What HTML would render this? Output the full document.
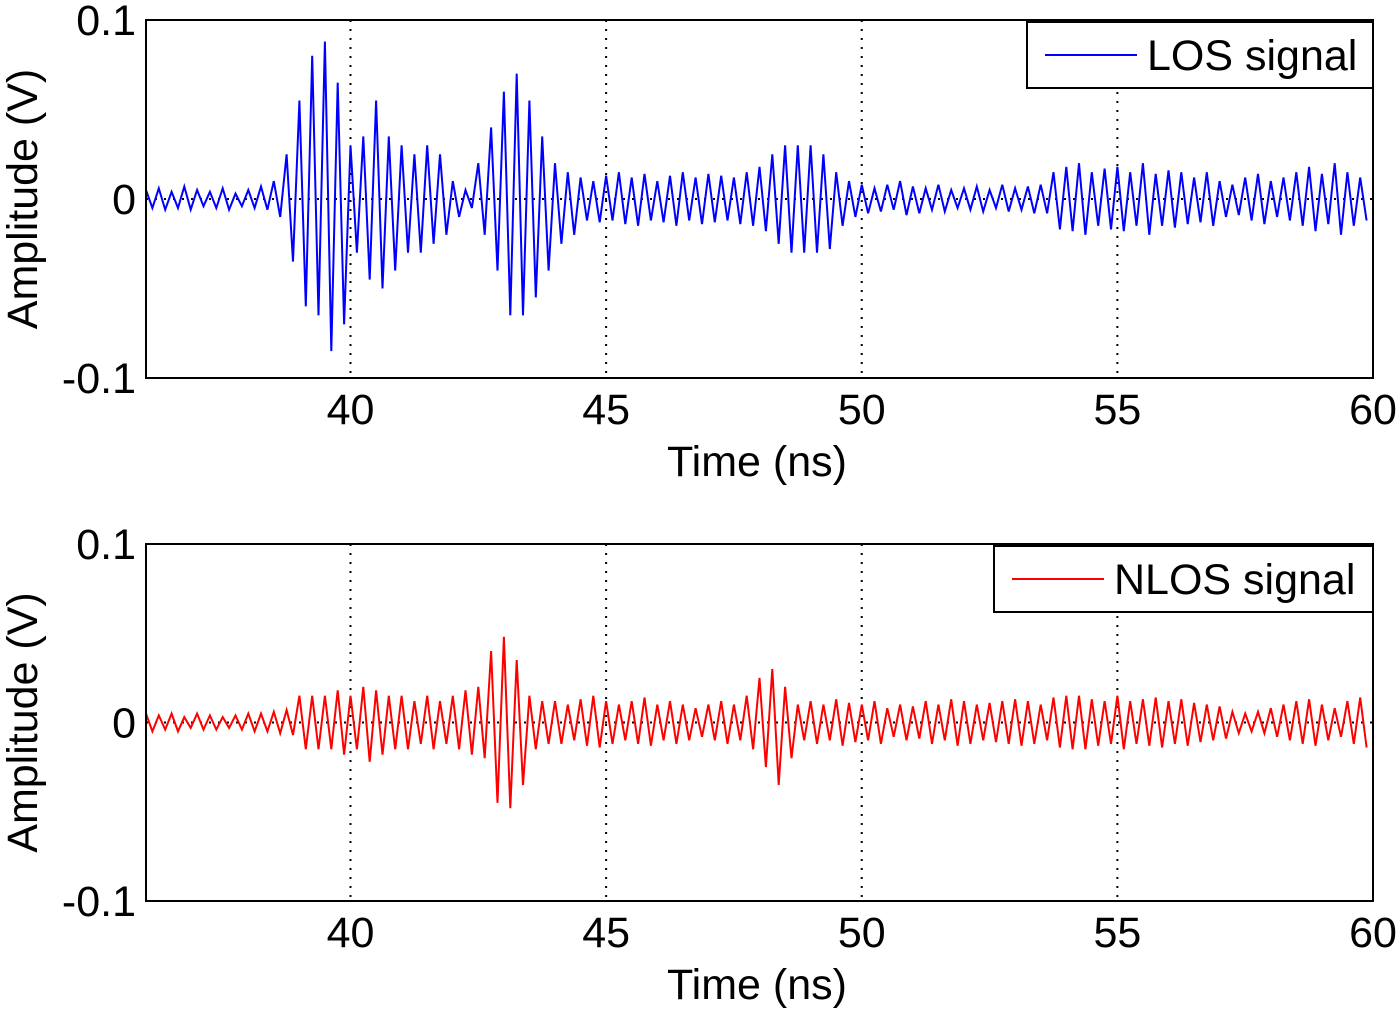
<!DOCTYPE html>
<html><head><meta charset="utf-8"><style>
body{margin:0;background:#fff;width:1400px;height:1012px;overflow:hidden}
svg text{font-family:"Liberation Sans",sans-serif;fill:#000}
</style></head><body>
<svg id="chart" width="1400" height="1012">
</svg>
<script>
const cycleTimes=[36,36.25,36.5,36.75,37,37.25,37.5,37.75,38,38.25,38.5,38.75,39,39.25,39.5,39.75,40,40.25,40.5,40.75,41,41.25,41.5,41.75,42,42.25,42.5,42.75,43,43.25,43.5,43.75,44,44.25,44.5,44.75,45,45.25,45.5,45.75,46,46.25,46.5,46.75,47,47.25,47.5,47.75,48,48.25,48.5,48.75,49,49.25,49.5,49.75,50,50.25,50.5,50.75,51,51.25,51.5,51.75,52,52.25,52.5,52.75,53,53.25,53.5,53.75,54,54.25,54.5,54.75,55,55.25,55.5,55.75,56,56.25,56.5,56.75,57,57.25,57.5,57.75,58,58.25,58.5,58.75,59,59.25,59.5,59.75];
const losHi=[5,6,4,7,5,4,6,3,5,7,10,25,55,80,88,65,30,35,55,35,30,25,30,25,10,5,20,40,60,70,55,35,20,15,12,10,13,15,12,14,10,13,15,12,14,13,12,15,18,25,30,30,30,25,15,10,8,6,8,10,7,6,8,5,6,7,5,8,6,7,8,15,18,20,15,17,18,15,20,14,16,15,12,15,10,8,12,14,10,12,15,18,14,20,15,12];
const losLo=[-5,-6,-5,-6,-4,-5,-6,-4,-5,-6,-10,-35,-60,-65,-85,-70,-30,-45,-50,-40,-30,-30,-25,-20,-10,-5,-20,-40,-65,-65,-55,-40,-25,-20,-12,-13,-12,-14,-15,-12,-13,-15,-12,-14,-13,-12,-14,-15,-18,-25,-30,-30,-30,-28,-15,-10,-8,-7,-6,-9,-8,-6,-7,-5,-6,-7,-5,-7,-6,-8,-8,-17,-18,-20,-15,-17,-18,-15,-20,-15,-16,-14,-13,-15,-10,-9,-12,-14,-10,-12,-15,-18,-14,-20,-15,-12];
const nlosHi=[5,4,5,3,5,4,3,4,5,5,6,7,15,15,15,18,15,20,18,15,15,12,15,12,15,18,20,40,48,35,15,12,12,10,13,15,12,10,12,14,10,12,10,8,10,12,10,15,25,30,20,10,12,10,13,11,10,12,8,10,9,12,10,13,12,10,11,12,13,12,10,14,15,15,13,12,15,12,13,14,12,13,11,10,9,6,5,6,8,10,12,13,10,8,12,14];
const nlosLo=[-5,-4,-5,-3,-4,-4,-3,-4,-5,-5,-6,-7,-15,-15,-15,-18,-15,-22,-18,-15,-15,-12,-15,-12,-15,-18,-20,-45,-48,-35,-15,-12,-12,-10,-13,-14,-12,-10,-12,-13,-10,-12,-10,-8,-10,-12,-10,-15,-25,-35,-20,-10,-12,-10,-13,-11,-10,-12,-8,-10,-9,-12,-10,-13,-12,-10,-11,-12,-13,-12,-10,-14,-15,-15,-13,-12,-15,-12,-13,-14,-12,-13,-11,-10,-9,-6,-5,-6,-8,-10,-12,-13,-10,-8,-12,-14];
const xTicks=[40,45,50,55,60];
const yTicks=[0.1,0,-0.1];
const yTickLabels=["0.1","0","-0.1"];

const NS="http://www.w3.org/2000/svg";
const svg=document.getElementById('chart');
function mk(tag,attrs,parent){const e=document.createElementNS(NS,tag);for(const k in attrs)e.setAttribute(k,attrs[k]);(parent||svg).appendChild(e);return e;}
const X0=146,X1=1373,TMIN=36,TMAX=60,FS=43;
function xs(t){return X0+(t-TMIN)/(TMAX-TMIN)*(X1-X0);}

function panel(top,bot,hi,lo,color,label,legX,name){
  const g=mk('g',{});
  
  
  const ys=v=>top+(0.1-v)/0.2*(bot-top);
  xTicks.forEach(t=>{
    if(t<TMAX){const l=mk('line',{x1:xs(t),x2:xs(t),y1:top,y2:bot,stroke:'#000','stroke-width':2,'stroke-dasharray':'2 7'},g);
    
    }
    const tx=mk('text',{x:xs(t),y:bot+46,'font-size':FS,'text-anchor':'middle'},g);tx.textContent=t;
    
    
  });
  const zl=mk('line',{x1:X0,x2:X1,y1:ys(0),y2:ys(0),stroke:'#000','stroke-width':2,'stroke-dasharray':'2 7'},g);
  
  
  yTicks.forEach((v,i)=>{
    const tx=mk('text',{x:136,y:ys(v)+15,'font-size':FS,'text-anchor':'end'},g);tx.textContent=yTickLabels[i];
    
    
  });
  let d='';
  cycleTimes.forEach((t,i)=>{
    d+=(i?'L':'M')+xs(t).toFixed(1)+','+ys(hi[i]/1000).toFixed(1);
    d+='L'+xs(Math.min(t+0.125,TMAX)).toFixed(1)+','+ys(lo[i]/1000).toFixed(1);
  });
  const p=mk('path',{d:d,fill:'none',stroke:color,'stroke-width':2},g);
  
  
  const fr=mk('rect',{x:X0,y:top,width:X1-X0,height:bot-top,fill:'none',stroke:'#000','stroke-width':2},g);
  
  
  const lg=mk('g',{},g);
  
  
  mk('rect',{x:legX,y:top+2,width:X1-legX,height:66,fill:'#fff',stroke:'#000','stroke-width':2},lg);
  mk('line',{x1:legX+18,x2:legX+110,y1:top+35,y2:top+35,stroke:color,'stroke-width':2},lg);
  const lt=mk('text',{x:legX+120,y:top+50,'font-size':FS},lg);lt.textContent=label;
  const xt=mk('text',{x:757,y:bot+98,'font-size':FS,'text-anchor':'middle'},g);xt.textContent='Time (ns)';
  
  
  const yt=mk('text',{x:0,y:0,'font-size':FS,'text-anchor':'middle',transform:`translate(37,${(top+bot)/2}) rotate(-90)`},g);yt.textContent='Amplitude (V)';
  
  
}
panel(20,378,losHi,losLo,'#0000ff','LOS signal',1027,'los');
panel(544,901,nlosHi,nlosLo,'#ff0000','NLOS signal',994,'nlos');
</script>
</body></html>
